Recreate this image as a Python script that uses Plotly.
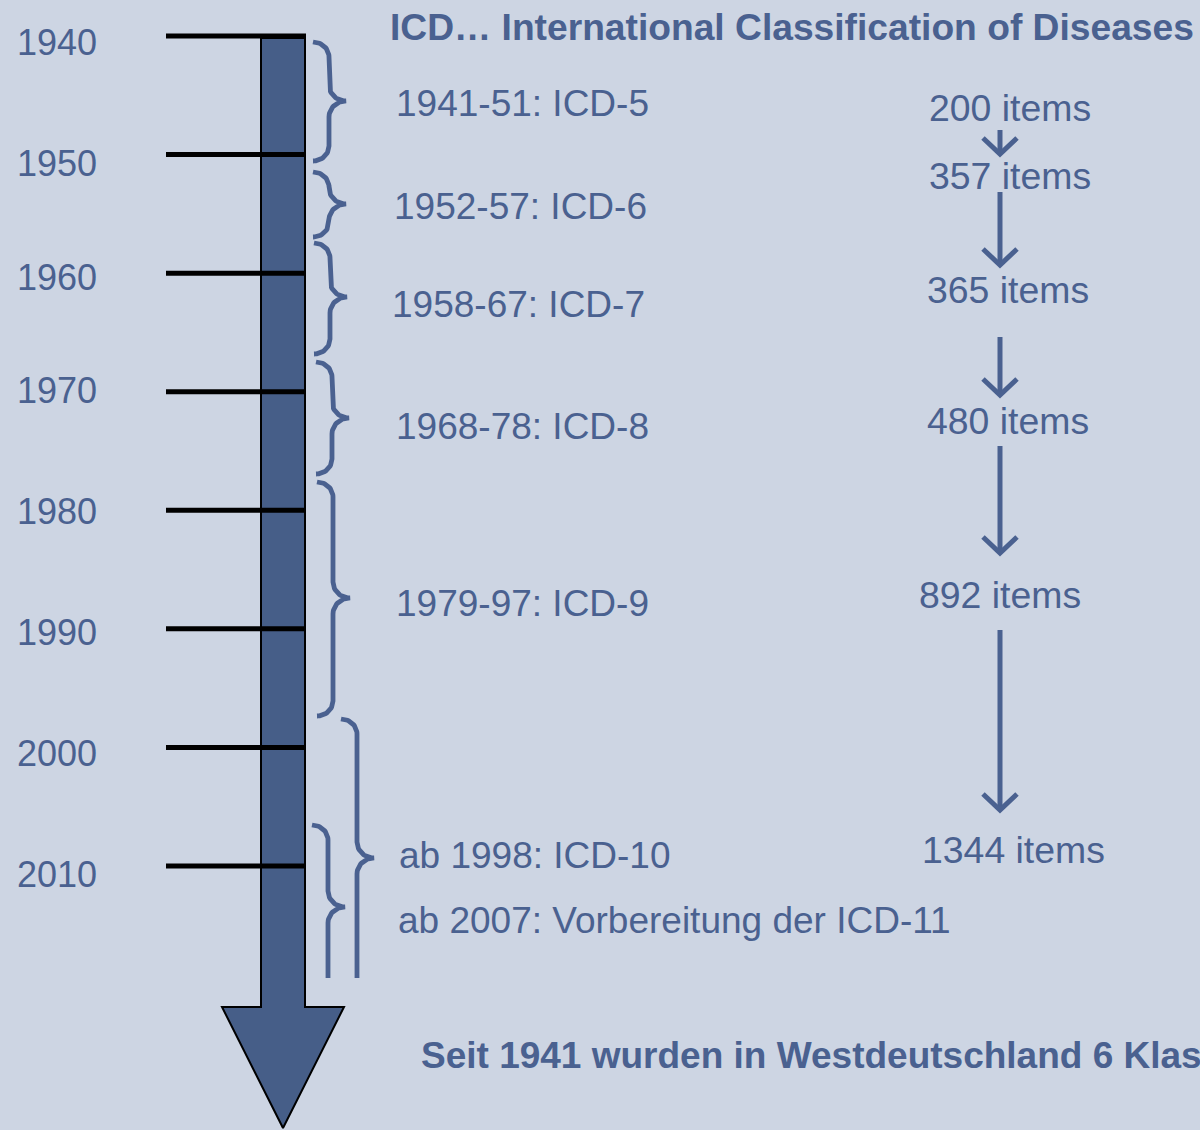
import numpy as np
import plotly.graph_objects as go

# ------------------------------------------------------------------ data
decades = [1940, 1950, 1960, 1970, 1980, 1990, 2000, 2010]
period_labels = ["1941-51: ICD-5", "1952-57: ICD-6", "1958-67: ICD-7",
                 "1968-78: ICD-8", "1979-97: ICD-9", "ab 1998: ICD-10",
                 "ab 2007: Vorbereitung der ICD-11"]
item_counts = [200, 357, 365, 480, 892, 1344]
title_text = "ICD… International Classification of Diseases"
footer_text = "Seit 1941 wurden in Westdeutschland 6 Klassifikationen verwendet."

# ------------------------------------------------------------------ layout (canvas pixels)
W, H = 1200, 1130
Y0_PX, PX_PER_YEAR = 36.0, 11.857          # 1940 tick at 36 px, 1 year = 11.857 px


def yr(px):
    """pixel row -> year value on the (reversed) y axis"""
    return 1940 + (px - Y0_PX) / PX_PER_YEAR


BG = "#CDD5E3"
BAR = "#465E88"
TXT = "#4A6190"
FONT = "Liberation Sans, Arial, Helvetica, sans-serif"

# label placements (x px, y px)
decade_label_y = [42, 163, 277, 390, 511, 632, 753, 874]
period_pos = [(394, 103), (392, 206), (390, 304), (394, 426), (394, 603),
              (397, 855), (396, 920)]
item_pos = [(1010, 108), (1010, 176), (1008, 290), (1008, 421), (1000, 595),
            (1013, 850)]
arrow_x = 1000
arrow_spans = [(130, 154), (192, 265), (337, 395), (446, 553), (630, 810)]
# braces: top px, bottom px, vertical x, tip y, open bottom
brace_specs = [(42, 161, 329, 101, False), (172, 237, 329, 204, False),
               (243, 354, 330, 297, False), (362, 474, 332, 418, False),
               (482, 716, 333, 598, False), (719, 978, 357, 858, True),
               (825, 978, 328, 907, True)]

fig = go.Figure()

# ---- timeline arrow (bar + head)
bx0, bx1, btop, bbot, hx0, hx1, htip = 261, 305, 38, 1007, 222, 344, 1128
fig.add_trace(go.Scatter(
    x=[bx0, bx1, bx1, hx1, (hx0 + hx1) / 2, hx0, bx0, bx0],
    y=[yr(v) for v in [btop, btop, bbot, bbot, htip, bbot, bbot, btop]],
    mode="lines", fill="toself", fillcolor=BAR,
    line=dict(color="black", width=2), hoverinfo="skip"))

# ---- decade tick lines
tx, ty = [], []
for d in decades:
    tx += [166, 306, None]
    ty += [d, d, None]
fig.add_trace(go.Scatter(x=tx, y=ty, mode="lines",
                         line=dict(color="black", width=5), hoverinfo="skip"))


# ---- braces
def brace(top, bot, xv, ym, open_bottom, we=16, re=15, wt=17, rt=16, n=20):
    xs, ys = [], []
    t = np.linspace(0, np.pi / 2, n)
    # top curl: from (xv-we, top) to (xv, top+re)
    xs += list(xv - we + we * np.sin(t)); ys += list(top + re - re * np.cos(t))
    # down to tip curl, then tip
    xs += list(xv + wt - wt * np.cos(t)); ys += list(ym - rt + rt * np.sin(t))
    # from tip back to vertical
    xs += list(xv + wt - wt * np.sin(t)); ys += list(ym + rt - rt * np.cos(t))
    if open_bottom:
        xs += [xv]; ys += [bot]
    else:
        xs += list(xv - we + we * np.cos(t)); ys += list(bot - re + re * np.sin(t))
    return xs, [yr(v) for v in ys]


bxs, bys = [], []
for spec in brace_specs:
    xs, ys = brace(*spec)
    bxs += xs + [None]
    bys += ys + [None]
fig.add_trace(go.Scatter(x=bxs, y=bys, mode="lines",
                         line=dict(color=TXT, width=4.8, shape="linear"),
                         hoverinfo="skip"))

# ---- chevron arrows between item counts
ax, ay = [], []
for (s, e) in arrow_spans:
    ax += [arrow_x, arrow_x, None, arrow_x - 17, arrow_x, arrow_x + 17, None]
    ay += [yr(s), yr(e), None, yr(e - 16), yr(e), yr(e - 16), None]
fig.add_trace(go.Scatter(x=ax, y=ay, mode="lines",
                         line=dict(color=TXT, width=5), hoverinfo="skip"))

ann = []
# decade labels
for d, ly in zip(decades, decade_label_y):
    ann.append(dict(x=57, y=yr(ly), text=str(d), xanchor="center",
                    yanchor="middle", font=dict(size=36, color=TXT)))
# period labels
for lab, (px, py) in zip(period_labels, period_pos):
    ann.append(dict(x=px, y=yr(py), text=lab, xanchor="left", yanchor="middle",
                    font=dict(size=37, color=TXT)))
# item counts
for cnt, (px, py) in zip(item_counts, item_pos):
    ann.append(dict(x=px, y=yr(py), text=f"{cnt} items", xanchor="center",
                    yanchor="middle", font=dict(size=37.4, color=TXT)))
# title and footer
ann.append(dict(x=388, y=yr(27), text=f"<b>{title_text}</b>", xanchor="left",
                yanchor="middle", font=dict(size=37.2, color=TXT)))
ann.append(dict(x=419, y=yr(1055), text=f"<b>{footer_text}</b>", xanchor="left",
                yanchor="middle", font=dict(size=37, color=TXT)))
for a in ann:
    a.update(xref="x", yref="y", showarrow=False)

fig.update_layout(
    width=W, height=H, autosize=False,
    margin=dict(l=0, r=0, t=0, b=0, pad=0),
    paper_bgcolor=BG, plot_bgcolor=BG,
    showlegend=False,
    font=dict(family=FONT, color=TXT),
    xaxis=dict(range=[0, W], visible=False, fixedrange=True),
    yaxis=dict(range=[yr(H), yr(0)], visible=False, fixedrange=True),
    annotations=ann,
)

fig.write_html("out.html", config={"displayModeBar": False},
               post_script="document.body.style.margin='0';"
                           "document.body.style.overflow='hidden';")
